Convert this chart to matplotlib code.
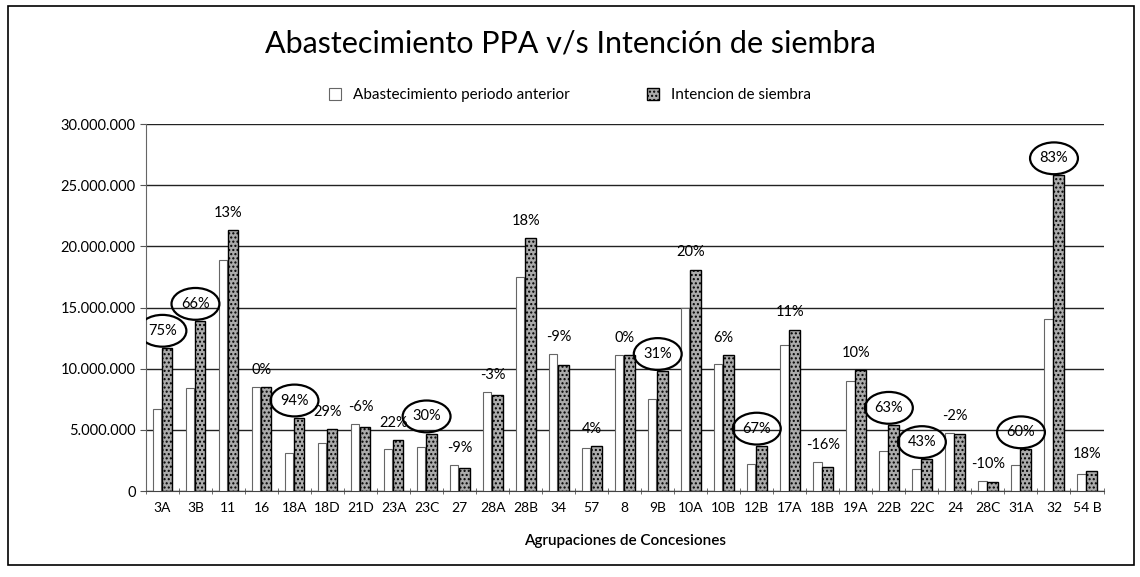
import numpy as np
import matplotlib.pyplot as plt
from matplotlib.patches import Ellipse, Rectangle
from matplotlib.ticker import FuncFormatter

plt.rcParams['font.family'] = ['Lato', 'DejaVu Sans']

# Data (values in units)
grupos = ["3A", "3B", "11", "16", "18A", "18D", "21D", "23A", "23C", "27",
          "28A", "28B", "34", "57", "8", "9B", "10A", "10B", "12B", "17A",
          "18B", "19A", "22B", "22C", "24", "28C", "31A", "32", "54 B"]
abastecimiento = [6.7, 8.4, 18.9, 8.5, 3.1, 3.9, 5.5, 3.4, 3.6, 2.1,
                  8.1, 17.5, 11.2, 3.5, 11.1, 7.5, 15.0, 10.4, 2.2, 11.9,
                  2.4, 9.0, 3.3, 1.8, 4.75, 0.85, 2.1, 14.1, 1.4]
intencion = [11.7, 13.9, 21.3, 8.5, 6.0, 5.1, 5.2, 4.15, 4.7, 1.9,
             7.85, 20.7, 10.3, 3.65, 11.1, 9.8, 18.1, 11.1, 3.7, 13.2,
             2.0, 9.9, 5.4, 2.6, 4.65, 0.77, 3.4, 25.8, 1.65]
variacion = [75, 66, 13, 0, 94, 29, -6, 22, 30, -9, -3, 18, -9, 4, 0, 31,
             20, 6, 67, 11, -16, 10, 63, 43, -2, -10, 60, 83, 18]
circulados = ["3A", "3B", "18A", "23C", "9B", "12B", "22B", "22C", "31A", "32"]

abastecimiento = np.array(abastecimiento) * 1e6
intencion = np.array(intencion) * 1e6

fig = plt.figure(figsize=(11.4, 5.77), dpi=100)
fig.patches.append(Rectangle((0.007, 0.02), 0.988, 0.97, transform=fig.transFigure,
                             fill=False, edgecolor='black', lw=1.2))
ax = fig.add_axes([0.128, 0.149, 0.84, 0.636])

x = np.arange(len(grupos))
ax.bar(x - 0.17, abastecimiento, width=0.26, color='white', edgecolor='#666666',
       linewidth=0.8, label='Abastecimiento periodo anterior', zorder=3)
ax.bar(x + 0.14, intencion, width=0.32, color='#ababab', edgecolor='black',
       hatch='....', linewidth=1.0, label='Intencion de siembra', zorder=3)

# Percent labels, circled where highlighted
for i, g in enumerate(grupos):
    ytxt = max(abastecimiento[i], intencion[i]) + 1.4e6
    ax.text(x[i], ytxt, f"{variacion[i]}%", ha='center', va='center',
            fontsize=10.5, zorder=5)
    if g in circulados:
        ax.add_patch(Ellipse((x[i], ytxt), 1.45, 2.6e6, fill=False,
                             edgecolor='black', lw=1.6, zorder=5))

ax.set_xlim(-0.5, len(grupos) - 0.5)
ax.set_ylim(0, 30e6)
ax.set_yticks(np.arange(0, 30e6 + 1, 5e6))
ax.yaxis.set_major_formatter(FuncFormatter(lambda v, p: f"{v:,.0f}".replace(",", ".")))
ax.grid(axis='y', color='#222222', lw=1.0, zorder=1)
ax.set_xticks(x)
ax.set_xticklabels(grupos, fontsize=10)
ax.set_xticks(np.arange(-0.5, len(grupos), 1), minor=True)
ax.tick_params(axis='x', which='major', length=0, pad=8)
ax.tick_params(axis='x', which='minor', length=5, direction='inout', color='#555555')
ax.tick_params(axis='y', labelsize=10.5, length=4, color='#555555')
for s in ['top', 'right']:
    ax.spines[s].set_visible(False)
ax.spines['left'].set_color('#666666')
ax.spines['bottom'].set_color('#444444')

ax.set_xlabel("Agrupaciones de Concesiones", fontsize=11, fontweight='semibold', labelpad=14)
fig.text(0.5, 0.925, "Abastecimiento PPA v/s Intención de siembra",
         ha='center', va='center', fontsize=22)
fig.legend(loc='center', bbox_to_anchor=(0.5, 0.835), ncol=2, frameon=False,
           fontsize=11, handlelength=0.8, handleheight=0.8, columnspacing=5)

fig.savefig("out.png", dpi=100)
